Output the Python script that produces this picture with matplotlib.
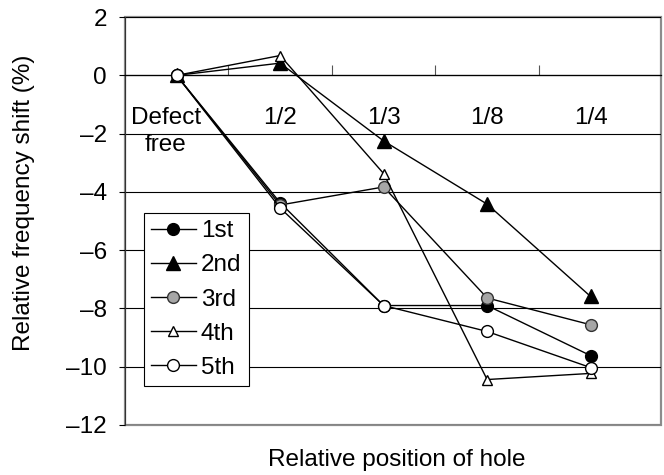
import matplotlib.pyplot as plt
import matplotlib.transforms as mtransforms
import numpy as np

plt.rcParams["font.family"] = ["Liberation Sans", "DejaVu Sans"]

# data
positions = ["Defect\nfree", "1/2", "1/3", "1/8", "1/4"]
mode_1st = [0.0, -4.37, -7.90, -7.90, -9.62]
mode_2nd = [0.0, 0.42, -2.25, -4.42, -7.59]
mode_3rd = [0.0, -4.45, -3.83, -7.64, -8.56]
mode_4th = [0.0, 0.68, -3.37, -10.44, -10.23]
mode_5th = [0.0, -4.55, -7.90, -8.79, -10.03]
y_ticks = [2, 0, -2, -4, -6, -8, -10, -12]

FS = 17.5

fig = plt.figure(figsize=(6.64, 4.75), dpi=100)
ax = fig.add_axes([0.188, 0.1053, 0.8075, 0.8587])

x = np.arange(len(positions))
styles = [
    ("1st", mode_1st, dict(marker="o", mfc="black", mec="black", ms=8.5)),
    ("2nd", mode_2nd, dict(marker="^", mfc="black", mec="black", ms=10)),
    ("3rd", mode_3rd, dict(marker="o", mfc="#a6a6a6", mec="#333333", ms=8.5)),
    ("4th", mode_4th, dict(marker="^", mfc="white", mec="black", ms=7.5)),
    ("5th", mode_5th, dict(marker="o", mfc="white", mec="black", ms=8.5)),
]
for label, vals, kw in styles:
    ax.plot(x, vals, color="black", lw=1.0, mew=1.0, label=label, zorder=3, **kw)

ax.set_xlim(-0.5, 4.68)
ax.set_ylim(-12, 2)

# horizontal grid lines
ax.set_yticks(y_ticks)
ax.set_yticklabels([f"{t}".replace("-", "\u2013") for t in y_ticks], fontsize=FS)
ax.yaxis.grid(True, color="black", lw=0.8)
ax.tick_params(axis="y", direction="out", length=4, width=0.8, pad=9)

# category axis crossing at zero
ax.spines["bottom"].set_position(("data", 0))
ax.spines["bottom"].set_linewidth(0.9)
ax.set_xticks(np.arange(len(positions) - 1) + 0.5)
ax.set_xticks(x, minor=True)
ax.set_xticklabels([], minor=False)
ax.set_xticklabels(positions, minor=True, fontsize=FS, linespacing=1.3)
ax.tick_params(axis="x", which="major", direction="in", length=7, width=0.8,
               color="#555555")
ax.tick_params(axis="x", which="minor", length=0, pad=23)
# the two-line first label sits a little left of its point, as in the original
first = ax.get_xticklabels(minor=True)[0]
first.set_transform(first.get_transform()
                    + mtransforms.ScaledTranslation(-0.11, 0, fig.dpi_scale_trans))

for s in ["top", "right"]:
    ax.spines[s].set_visible(False)
ax.spines["left"].set_color("#333333")
ax.patch.set_edgecolor("#8c8c8c")
ax.patch.set_linewidth(1.6)

ax.set_ylabel("Relative frequency shift (%)", fontsize=FS)
ax.yaxis.set_label_coords(-0.168, 0.545)
fig.text(0.597, 0.018, "Relative position of hole", ha="center", fontsize=FS)

leg = ax.legend(loc="upper left", bbox_to_anchor=(0.035, 0.52), fontsize=FS,
                handlelength=1.85, labelspacing=0.5, handletextpad=0.2,
                borderpad=0.3, borderaxespad=0, fancybox=False, framealpha=1,
                edgecolor="black")
leg.get_frame().set_linewidth(0.8)

fig.savefig("out.png", dpi=100)
